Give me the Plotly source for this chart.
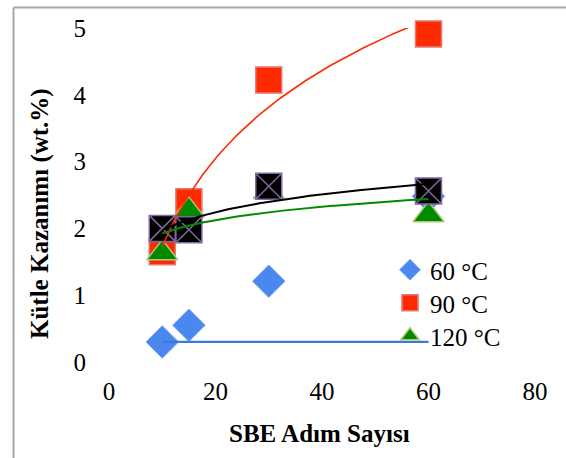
import numpy as np
import plotly.graph_objects as go

# SBE step counts and mass gain (wt.%) per treatment temperature
steps = [10, 15, 30, 60]
gain_60c = [0.30, 0.55, 1.21, 2.48]
gain_90c = [1.65, 2.40, 4.22, 4.91]
gain_120c = [1.63, 2.27, 2.55, 2.20]
gain_ref = [2.00, 1.98, 2.63, 2.56]

# flat trend drawn for the 60 °C series
trend_60c_x = [10, 60]
trend_60c_y = [0.30, 0.30]

x_ticks = [0, 20, 40, 60, 80]
y_ticks = [0, 1, 2, 3, 4, 5]

W, H = 566, 458
ML, MR, MT, MB = 109, 31, 28, 96
PW, PH = W - ML - MR, H - MT - MB


def px_x(p):
    return (p - ML) / PW


def px_y(p):
    return (H - MB - p) / PH


def log_fit(x, y):
    a, b = np.polyfit(np.log(x), y, 1)
    xs = np.linspace(min(x), max(x), 120)
    return xs, a * np.log(xs) + b


SERIF = "Liberation Serif"
FS = 25

fig = go.Figure()

fig.add_trace(go.Scatter(
    x=steps, y=gain_60c, mode="markers", name="60 °C", legend="legend",
    marker=dict(symbol="diamond", size=25, color="#4a88f0",
                line=dict(color="#7aa6f2", width=1)),
    cliponaxis=False))
fig.add_trace(go.Scatter(
    x=steps, y=gain_90c, mode="markers", name="90 °C", legend="legend2",
    marker=dict(symbol="square", size=26, color="#ff2a00",
                line=dict(color="#e27a74", width=1.5)),
    cliponaxis=False))
fig.add_trace(go.Scatter(
    x=steps, y=gain_120c, mode="markers", name="120 °C", legend="legend3",
    marker=dict(symbol="triangle-up", size=27, color="#008a00",
                line=dict(color="#b3c77a", width=1.5)),
    cliponaxis=False))
fig.add_trace(go.Scatter(
    x=steps, y=gain_ref, mode="markers", showlegend=False,
    marker=dict(symbol="square-x", size=26, color="#000000",
                line=dict(color="#8068a0", width=1.5)),
    cliponaxis=False))

# trend lines drawn over the markers
fig.add_trace(go.Scatter(
    x=trend_60c_x, y=trend_60c_y, mode="lines", showlegend=False,
    line=dict(color="#3b78e0", width=2.2), hoverinfo="skip"))
for ys, col, w in [(gain_90c, "#ff2a00", 1.6),
                   (gain_ref, "#000000", 2.0),
                   (gain_120c, "#008a00", 2.0)]:
    fx, fy = log_fit(steps, ys)
    fig.add_trace(go.Scatter(
        x=fx, y=fy, mode="lines", showlegend=False,
        line=dict(color=col, width=w), hoverinfo="skip"))

fig.update_xaxes(
    range=[0, 80], tickvals=x_ticks, showgrid=False, zeroline=False,
    showline=False, ticks="", ticklabelstandoff=12,
    tickfont=dict(family=SERIF, size=FS, color="#000000"))
fig.update_yaxes(
    range=[0, 5], tickvals=y_ticks, showgrid=False, zeroline=False,
    showline=False, ticks="", ticklabelstandoff=22,
    tickfont=dict(family=SERIF, size=FS, color="#000000"))

fig.add_annotation(
    text="<b>SBE Adım Sayısı</b>", xref="paper", yref="paper",
    x=px_x(319), y=px_y(433), xanchor="center", yanchor="middle",
    showarrow=False, font=dict(family=SERIF, size=FS, color="#000000"))
fig.add_annotation(
    text="<b>Kütle Kazanımı (wt.%)</b>", xref="paper", yref="paper",
    x=px_x(40), y=px_y(214), xanchor="center", yanchor="middle",
    showarrow=False, textangle=-90,
    font=dict(family=SERIF, size=FS, color="#000000"))

# outer frame of the chart area (left and top edges)
fig.add_shape(type="line", xref="paper", yref="paper",
              x0=px_x(13.5), x1=px_x(13.5), y0=px_y(470), y1=px_y(7.5),
              line=dict(color="#a6a6a6", width=2))
fig.add_shape(type="line", xref="paper", yref="paper",
              x0=px_x(13.5), x1=px_x(580), y0=px_y(7.5), y1=px_y(7.5),
              line=dict(color="#a6a6a6", width=2))


def legend_row(center_y):
    return dict(x=px_x(390), y=px_y(center_y), xanchor="left",
                yanchor="middle", bgcolor="rgba(0,0,0,0)", itemwidth=30,
                font=dict(family=SERIF, size=FS, color="#000000"))


fig.update_layout(
    width=W, height=H,
    margin=dict(l=ML, r=MR, t=MT, b=MB),
    paper_bgcolor="#ffffff", plot_bgcolor="#ffffff",
    showlegend=True,
    legend=legend_row(270),
    legend2=legend_row(303),
    legend3=legend_row(336),
)

fig.write_html("out.html")
